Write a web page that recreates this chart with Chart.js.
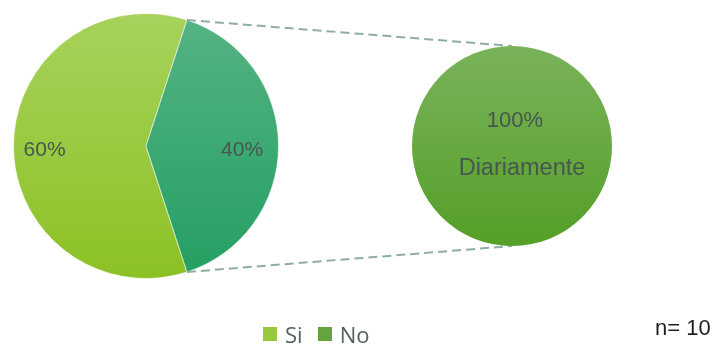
<!DOCTYPE html>
<html>
<head>
<meta charset="utf-8">
<script src="https://cdn.jsdelivr.net/npm/chart.js@4/dist/chart.umd.min.js"></script>
<style>
  html, body { margin: 0; padding: 0; background: #fff; }
  #wrap { position: relative; width: 717px; height: 345px; overflow: hidden; }
  #wrap canvas { position: absolute; left: 0; top: 0; }
  #legend { position: absolute; left: 263px; top: 321px; display: flex; align-items: center;
            font-family: "Open Sans", sans-serif; font-size: 22px; color: #52625a; line-height: 26px; }
  #legend .item { display: flex; align-items: center; margin-right: 15px; }
  #legend .box { width: 14px; height: 14px; margin-right: 8px; }
  #nLabel { position: absolute; left: 655px; top: 315px; font-family: "Liberation Sans", Arial, sans-serif;
            font-size: 22px; color: #1e1e1e; }
</style>
</head>
<body>
<div id="wrap">
  <canvas id="mainPie" width="717" height="345"></canvas>
  <canvas id="subPie" width="717" height="345"></canvas>
  <div id="legend"></div>
  <div id="nLabel">n= 10</div>
</div>
<script>
// main pie: Si / No
const categories = ['Si', 'No'];
const values = [60, 40];
// breakdown of the "No" slice
const subCategories = ['Diariamente'];
const subValues = [100];

const labelColor = '#475650';
const fontFamily = '"Liberation Sans", Arial, sans-serif';

// vertical gradients, top -> bottom
const mainStops = [['#a7d25c', '#8cc124'], ['#55b383', '#249f62']];
const subStops = [['#79b35a', '#559f28']];
const legendSwatches = ['#97c93c', '#63a43c'];

function gradientFill(stops) {
  return (ctx) => {
    const area = ctx.chart.chartArea;
    if (!area) return stops[ctx.dataIndex][1];
    const g = ctx.chart.ctx.createLinearGradient(0, area.top, 0, area.bottom);
    g.addColorStop(0, stops[ctx.dataIndex][0]);
    g.addColorStop(1, stops[ctx.dataIndex][1]);
    return g;
  };
}

function pct(v, arr) {
  const total = arr.reduce((a, b) => a + b, 0);
  return Math.round(v / total * 100) + '%';
}

const subChart = new Chart(document.getElementById('subPie'), {
  type: 'pie',
  data: {
    labels: subCategories,
    datasets: [{ data: subValues, backgroundColor: gradientFill(subStops), borderWidth: 0 }]
  },
  options: {
    responsive: false,
    animation: false,
    events: [],
    layout: { padding: { left: 412, top: 46, right: 105, bottom: 99 } },
    plugins: { legend: { display: false }, tooltip: { enabled: false } }
  },
  plugins: [{
    id: 'subLabels',
    afterDatasetsDraw(chart) {
      const arc = chart.getDatasetMeta(0).data[0];
      const c = chart.ctx;
      c.save();
      c.fillStyle = labelColor;
      c.textAlign = 'center';
      c.textBaseline = 'alphabetic';
      c.font = '22px ' + fontFamily;
      c.fillText(pct(subValues[0], subValues), arc.x + 3, arc.y - 19);
      c.font = '23.5px ' + fontFamily;
      c.fillText(subCategories[0], arc.x + 10, arc.y + 29);
      c.restore();
    }
  }]
});

const mainChart = new Chart(document.getElementById('mainPie'), {
  type: 'pie',
  data: {
    labels: categories,
    datasets: [{
      data: values,
      backgroundColor: gradientFill(mainStops),
      borderColor: 'rgba(255,255,255,0.55)',
      borderWidth: 1
    }]
  },
  options: {
    responsive: false,
    animation: false,
    events: [],
    rotation: 162,
    layout: { padding: { left: 13, top: 13, right: 438, bottom: 66 } },
    plugins: {
      legend: {
        display: false,
        labels: {
          generateLabels: (chart) => chart.data.labels.map((text, i) => ({
            text, fillStyle: legendSwatches[i], index: i
          }))
        }
      },
      tooltip: { enabled: false }
    }
  },
  plugins: [{
    id: 'connectors',
    afterDatasetsDraw(chart) {
      const arc = chart.getDatasetMeta(0).data[1];
      const sub = subChart.getDatasetMeta(0).data[0];
      const c = chart.ctx;
      const r = arc.outerRadius;
      c.save();
      c.strokeStyle = '#8eae9f';
      c.lineWidth = 2;
      c.setLineDash([9, 5]);
      c.beginPath();
      c.moveTo(arc.x + r * Math.cos(arc.startAngle), arc.y + r * Math.sin(arc.startAngle));
      c.lineTo(sub.x, sub.y - sub.outerRadius);
      c.moveTo(arc.x + r * Math.cos(arc.endAngle), arc.y + r * Math.sin(arc.endAngle));
      c.lineTo(sub.x, sub.y + sub.outerRadius);
      c.stroke();
      c.restore();
    }
  }, {
    id: 'sliceLabels',
    afterDatasetsDraw(chart) {
      const c = chart.ctx;
      c.save();
      c.font = '21px ' + fontFamily;
      c.fillStyle = labelColor;
      c.textAlign = 'center';
      c.textBaseline = 'alphabetic';
      chart.getDatasetMeta(0).data.forEach((arc, i) => {
        const mid = (arc.startAngle + arc.endAngle) / 2;
        const d = arc.outerRadius * (i === 0 ? 0.765 : 0.725);
        c.fillText(pct(values[i], values), arc.x + d * Math.cos(mid), arc.y + d * Math.sin(mid) + 10);
      });
      c.restore();
    }
  }]
});

// html legend built from the chart's own legend items
const legendEl = document.getElementById('legend');
mainChart.options.plugins.legend.labels.generateLabels(mainChart).forEach(item => {
  const el = document.createElement('div');
  el.className = 'item';
  const box = document.createElement('span');
  box.className = 'box';
  box.style.background = item.fillStyle;
  const txt = document.createElement('span');
  txt.textContent = item.text;
  el.appendChild(box);
  el.appendChild(txt);
  legendEl.appendChild(el);
});
</script>
</body>
</html>
